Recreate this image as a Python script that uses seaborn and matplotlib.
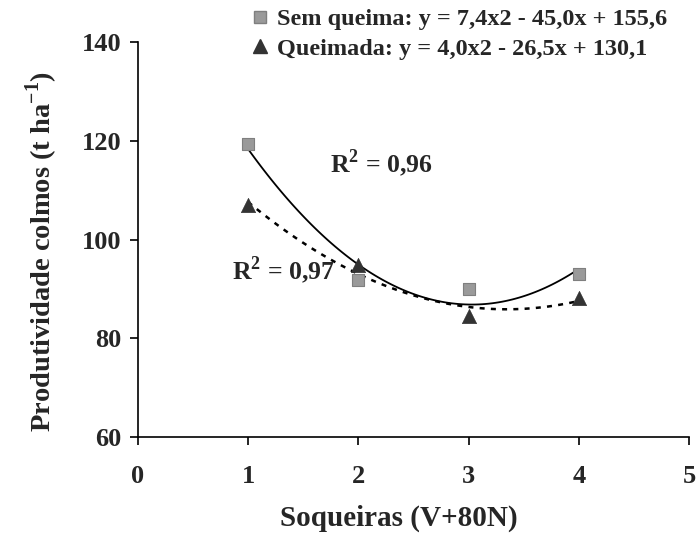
import numpy as np
import pandas as pd
import matplotlib
matplotlib.use("Agg")
import matplotlib.pyplot as plt
import seaborn as sns
from matplotlib.lines import Line2D

x_vals = [1, 2, 3, 4]
sem_queima = [119.4, 91.8, 90.0, 93.0]
queimada = [107.0, 94.9, 84.5, 88.2]
legend_sem = "Sem queima: y = 7,4x2 - 45,0x + 155,6"
legend_que = "Queimada: y = 4,0x2 - 26,5x + 130,1"
r2_sem = "R$^\\mathbf{2}$ = 0,96"
r2_que = "R$^\\mathbf{2}$ = 0,97"
x_ticks = [0, 1, 2, 3, 4, 5]
y_ticks = [60, 80, 100, 120, 140]

sns.set_style("white")
plt.rcParams['font.family'] = ['Liberation Serif', 'DejaVu Serif']
plt.rcParams['font.weight'] = 'bold'
plt.rcParams['mathtext.fontset'] = 'custom'
plt.rcParams['mathtext.rm'] = 'Liberation Serif:bold'
plt.rcParams['mathtext.bf'] = 'Liberation Serif:bold'

df = pd.DataFrame({"x": x_vals, "sem": sem_queima, "que": queimada})

fig = plt.figure(figsize=(6.96, 5.39), dpi=100)
ax = fig.add_axes([0.198, 0.189, 0.792, 0.733])

sns.regplot(data=df, x="x", y="sem", order=2, ci=None, scatter=False, truncate=True,
            line_kws=dict(color="black", lw=1.3, ls="-"), ax=ax)
sns.regplot(data=df, x="x", y="que", order=2, ci=None, scatter=False, truncate=True,
            line_kws=dict(color="black", lw=1.8, ls=(0, (2, 2.5))), ax=ax)
sns.scatterplot(data=df, x="x", y="sem", marker="s", s=70, color="#9a9a9a",
                edgecolor="#7f7f7f", linewidth=0.8, ax=ax, zorder=3)
sns.scatterplot(data=df, x="x", y="que", marker="^", s=105, color="#333333",
                edgecolor="#333333", linewidth=0.5, ax=ax, zorder=3)

ax.set_xlim(0, 5)
ax.set_ylim(60, 140)
ax.set_xticks(x_ticks)
ax.set_yticks(y_ticks)
ax.tick_params(axis='both', labelsize=19, direction='out', length=6, width=1.2,
               color='black', bottom=True, left=True)
ax.tick_params(axis='x', pad=14)
ax.tick_params(axis='y', pad=6)
for lab in ax.get_xticklabels() + ax.get_yticklabels():
    lab.set_fontweight('bold')
for side in ['top', 'right']:
    ax.spines[side].set_visible(False)
for side in ['left', 'bottom']:
    ax.spines[side].set_color('black')
    ax.spines[side].set_linewidth(1.2)

ax.set_xlabel("Soqueiras (V+80N)", fontsize=21, fontweight='bold')
ax.set_ylabel("Produtividade colmos (t ha$^\\mathbf{-1}$)", fontsize=20.5, fontweight='bold')
ax.xaxis.set_label_coords(0.474, -0.172)
ax.yaxis.set_label_coords(-0.142, 0.471)

ax.text(1.74, 115.5, r2_sem, fontsize=18.5, fontweight='bold', ha='left', va='center')
ax.text(0.85, 93.8, r2_que, fontsize=18.5, fontweight='bold', ha='left', va='center')

handles = [
    Line2D([], [], marker='s', ls='', color='#9a9a9a', markeredgecolor='#7f7f7f', markersize=8),
    Line2D([], [], marker='^', ls='', color='#333333', markersize=10),
]
fig.legend(handles, [legend_sem, legend_que], loc='upper left',
           bbox_to_anchor=(0.325, 1.025), frameon=False, prop=dict(size=17.5, weight='bold'),
           handletextpad=0.2, labelspacing=0.3, handlelength=1.0)

fig.savefig("out.png", dpi=100)
